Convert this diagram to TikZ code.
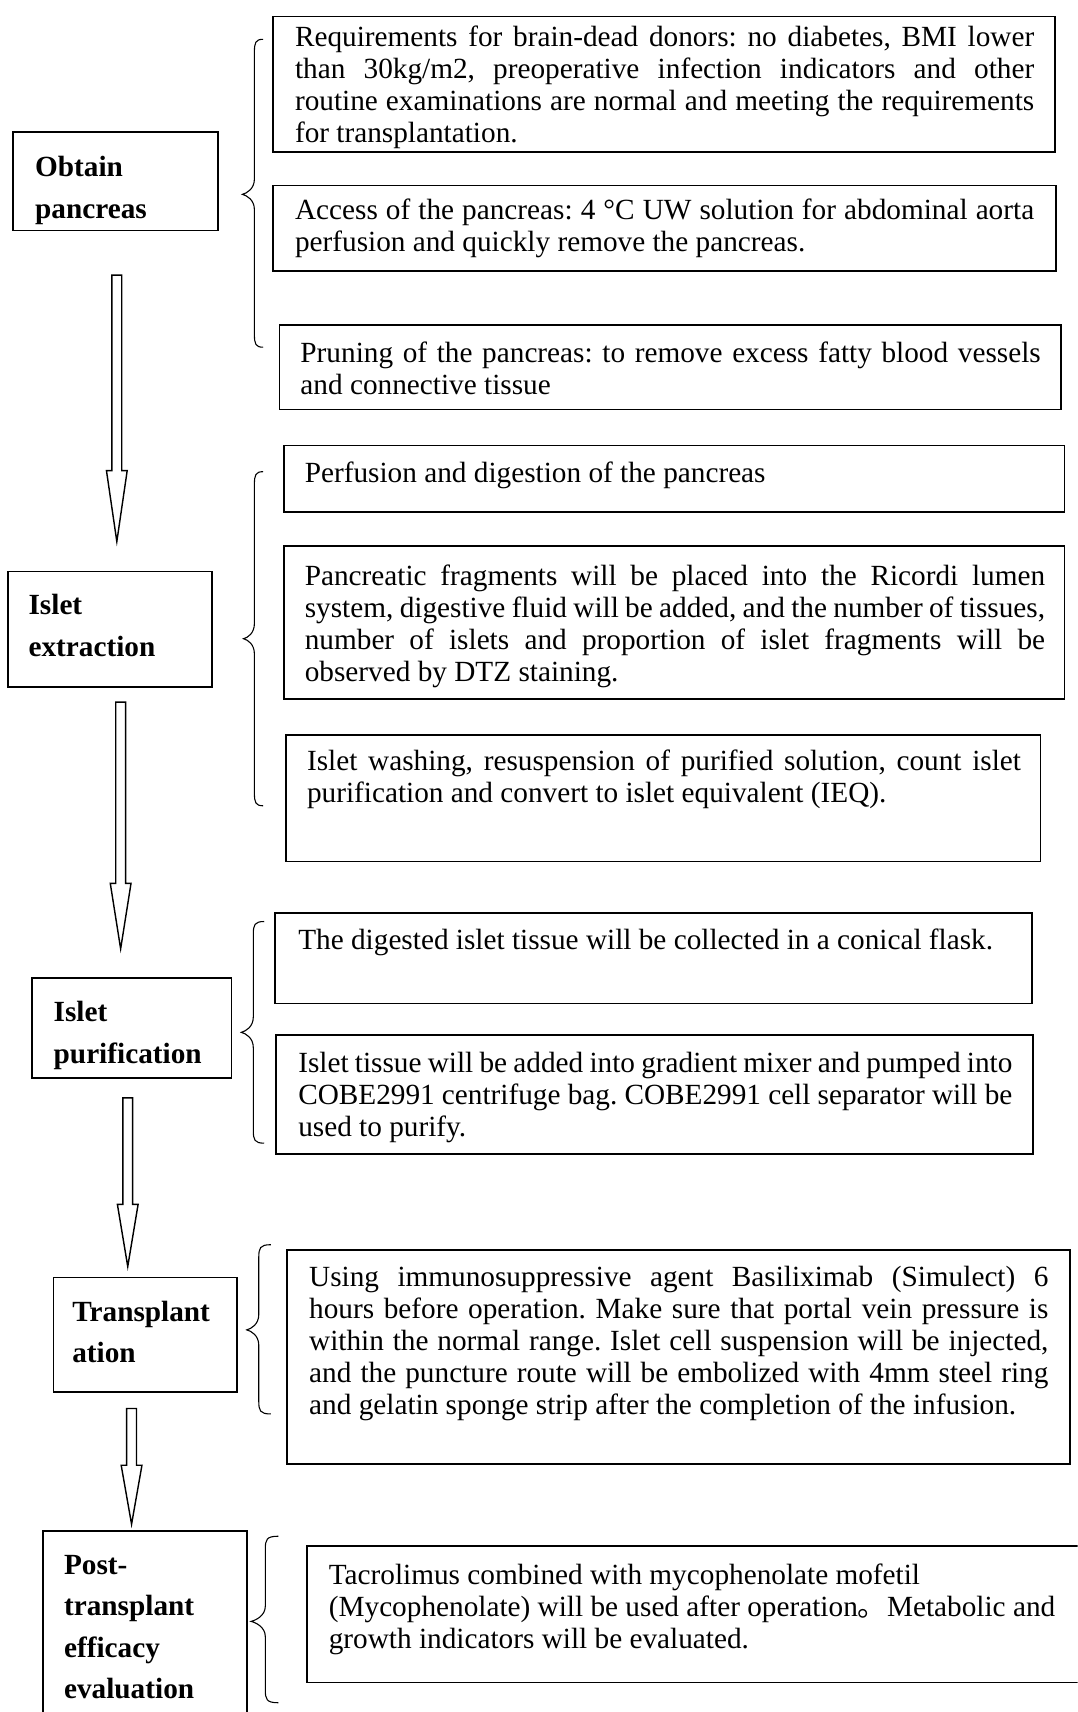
\documentclass[tikz,border=0pt]{standalone}
\usepackage{fontspec}
\setmainfont{Liberation Serif}
\newfontfamily\cjkfont{Noto Sans CJK SC}
\frenchspacing
\usetikzlibrary{calc}
\newcommand{\J}[2]{\hbox to #1pt{#2}}
\newcommand{\R}[1]{\hbox{#1}}
\newcommand{\drawbrace}[6]{%
  \draw[bracestyle] (#3,#4) .. controls ({#1+1},#4) and (#1,{#4+3}) .. (#1,{#4+12})
    -- (#1,{#5-14}) .. controls (#1,{#5-5}) and ({#2+4},{#5-1}) .. (#2,#5)
    .. controls ({#2+4},{#5+1}) and (#1,{#5+5}) .. (#1,{#5+14})
    -- (#1,{#6-12}) .. controls (#1,{#6-3}) and ({#1+1},#6) .. (#3,#6);}
\newcommand{\hollowdown}[3]{%
  \draw[hollowarrow] ($(#1)+(-4.5,0)$) -- ($(#2)+(-4.5,-#3)$) -- ($(#2)+(-9.5,-#3)$) -- (#2)
    -- ($(#2)+(9.5,-#3)$) -- ($(#2)+(4.5,-#3)$) -- ($(#1)+(4.5,0)$) -- cycle;}
\tikzset{
  box/.style={draw, line width=1.6pt, inner sep=0pt, outer sep=0pt, anchor=north west},
  txt/.style={inner sep=0pt, anchor=base west, font=\fontsize{26.8}{29.3}\selectfont},
  ttl/.style={inner sep=0pt, anchor=base west, font=\fontsize{26.8}{38}\selectfont\bfseries},
  bracestyle/.style={line width=1pt},
  hollowarrow/.style={draw, line width=1.3pt, fill=white, line join=miter},
}
\begin{document}
\begin{tikzpicture}[x=1pt,y=-1pt]
\useasboundingbox (0,0) rectangle (987,1568);
\clip (0,0) rectangle (987,1568);
\fill[white] (0,0) rectangle (987,1568);

% ---------- Obtain pancreas ----------
\node[box, minimum width=188pt, minimum height=90pt] (obtain) at (12,121) {};
\node[ttl] (obtaintxt) at (32,162) {\vtop{\R{Obtain}\R{pancreas}}};
\drawbrace{233}{222}{241}{36}{178}{318}
\node[box, minimum width=716pt, minimum height=124pt] (req) at (250,15) {};
\node[txt] (reqtxt) at (270,42.5) {\vtop{%
\J{677}{Requirements for brain-dead donors: no diabetes, BMI lower}
\J{677}{than 30kg/m2, preoperative infection indicators and other}
\J{677}{routine examinations are normal and meeting the requirements}
\R{for transplantation.}}};
\node[box, minimum width=717pt, minimum height=78pt] (access) at (250,170) {};
\node[txt] (accesstxt) at (270,201) {\vtop{%
\J{677}{Access of the pancreas: 4 °C UW solution for abdominal aorta}
\R{perfusion and quickly remove the pancreas.}}};
\node[box, minimum width=716pt, minimum height=77pt] (prune) at (256,298) {};
\node[txt] (prunetxt) at (275,332) {\vtop{%
\J{678}{Pruning of the pancreas: to remove excess fatty blood vessels}
\R{and connective tissue}}};

\coordinate (a1s) at (107,252);
\coordinate (a1e) at (107,496);
\hollowdown{a1s}{a1e}{65}

% ---------- Islet extraction ----------
\node[box, minimum width=187pt, minimum height=106pt] (extract) at (7,523.5) {};
\node[ttl] (extracttxt) at (26,563) {\vtop{\R{Islet}\R{extraction}}};
\drawbrace{233}{223}{241}{432}{585}{738}
\node[box, minimum width=715pt, minimum height=61pt] (perf) at (260,408) {};
\node[txt] (perftxt) at (279,442) {\R{Perfusion and digestion of the pancreas}};
\node[box, minimum width=715pt, minimum height=140pt] (frag) at (260,500) {};
\node[txt] (fragtxt) at (279,536.5) {\vtop{%
\J{678}{Pancreatic fragments will be placed into the Ricordi lumen}
\J{678}{system, digestive fluid will be added, and the number of tissues,}
\J{678}{number of islets and proportion of islet fragments will be}
\R{observed by DTZ staining.}}};
\node[box, minimum width=691pt, minimum height=116pt] (wash) at (262,673) {};
\node[txt] (washtxt) at (281,706) {\vtop{%
\J{654}{Islet washing, resuspension of purified solution, count islet}
\R{purification and convert to islet equivalent (IEQ).}}};

\coordinate (a2s) at (110.5,643);
\coordinate (a2e) at (110.5,869);
\hollowdown{a2s}{a2e}{60}

% ---------- Islet purification ----------
\node[box, minimum width=183pt, minimum height=91pt] (purif) at (29,896) {};
\node[ttl] (puriftxt) at (49,936) {\vtop{\R{Islet}\R{purification}}};
\drawbrace{232}{221}{242}{844}{945.5}{1047}
\node[box, minimum width=693pt, minimum height=83pt] (digest) at (252,836) {};
\node[txt] (digesttxt) at (273,870) {\R{The digested islet tissue will be collected in a conical flask.}};
\node[box, minimum width=693pt, minimum height=109pt] (tissue) at (253,948) {};
\node[txt] (tissuetxt) at (273,982) {\vtop{%
\J{654}{Islet tissue will be added into gradient mixer and pumped into}
\J{654}{COBE2991 centrifuge bag. COBE2991 cell separator will be}
\R{used to purify.}}};

\coordinate (a3s) at (117,1005.5);
\coordinate (a3e) at (117,1160);
\hollowdown{a3s}{a3e}{57}

% ---------- Transplantation ----------
\node[box, minimum width=168pt, minimum height=105pt] (trans) at (49,1170) {};
\node[ttl] (transtxt) at (66,1210) {\vtop{\R{Transplant}\R{ation}}};
\drawbrace{237}{226}{248}{1140}{1218}{1295}
\node[box, minimum width=717pt, minimum height=196pt] (using) at (263,1145) {};
\node[txt] (usingtxt) at (283,1178) {\vtop{%
\J{677}{Using immunosuppressive agent Basiliximab (Simulect) 6}
\J{677}{hours before operation. Make sure that portal vein pressure is}
\J{677}{within the normal range. Islet cell suspension will be injected,}
\J{677}{and the puncture route will be embolized with 4mm steel ring}
\R{and gelatin sponge strip after the completion of the infusion.}}};

\coordinate (a4s) at (120.5,1290);
\coordinate (a4e) at (120.5,1396);
\hollowdown{a4s}{a4e}{54}

% ---------- Post-transplant ----------
\node[box, minimum width=187pt, minimum height=220pt] (post) at (39.5,1402.5) {};
\node[ttl] (posttxt) at (58.5,1442) {\vtop{\R{Post-}\R{transplant}\R{efficacy}\R{evaluation}}};
\drawbrace{243}{230}{255}{1407}{1485}{1559.5}
\node[box, minimum width=740pt, minimum height=125pt] (tacro) at (281.5,1416) {};
\node[txt] (tacrotxt) at (301,1451) {\vtop{%
\R{Tacrolimus combined with mycophenolate mofetil}
\R{(Mycophenolate) will be used after operation{\cjkfont 。}Metabolic and}
\R{growth indicators will be evaluated.}}};
\end{tikzpicture}
\end{document}
